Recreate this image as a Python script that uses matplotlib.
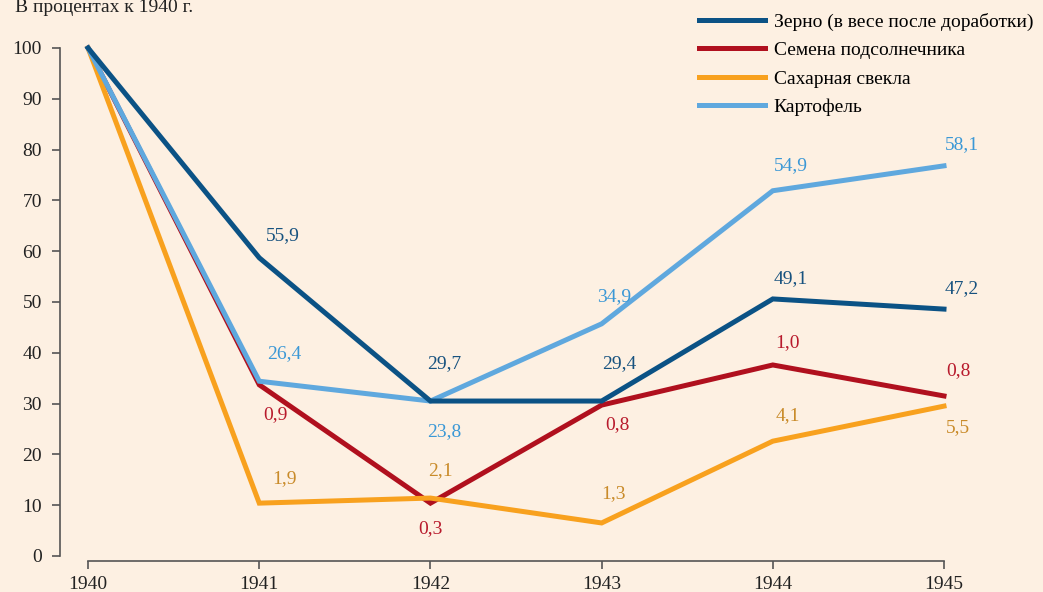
import matplotlib
matplotlib.use('Agg')
import matplotlib.pyplot as plt

years = [1940, 1941, 1942, 1943, 1944, 1945]
names = ['Зерно (в весе после доработки)', 'Семена подсолнечника',
         'Сахарная свекла', 'Картофель']
grain = [100, 58.7, 30.5, 30.5, 50.6, 48.6]
sunflower = [100, 33.7, 10.4, 29.7, 37.6, 31.5]
beet = [100, 10.4, 11.4, 6.5, 22.6, 29.5]
potato = [100, 34.4, 30.5, 45.7, 71.9, 76.8]
# подписи у точек (млн т)
grain_lbl = ['', '55,9', '29,7', '29,4', '49,1', '47,2']
sunflower_lbl = ['', '0,9', '0,3', '0,8', '1,0', '0,8']
beet_lbl = ['', '1,9', '2,1', '1,3', '4,1', '5,5']
potato_lbl = ['', '26,4', '23,8', '34,9', '54,9', '58,1']

line_col = ['#0b5285', '#b0101e', '#f8a11e', '#5fa8de']
text_col = ['#17527f', '#b81a2c', '#c98b2a', '#3b98d6']
# смещения подписей в пикселях
offs = [
    [None, (24, 22), (14, 37), (18, 37), (18, 20), (18, 21)],
    [None, (16, -30), (0, -25), (16, -19), (15, 22), (14, 25)],
    [None, (25, 25), (10, 27), (12, 29), (15, 26), (14, -21)],
    [None, (25, 28), (14, -31), (12, 27), (18, 25), (18, 21)],
]

plt.rcParams['font.family'] = ['Liberation Serif', 'DejaVu Serif']
fs = 14
bg = '#fdf0e2'
fig = plt.figure(figsize=(10.43, 5.92), dpi=100, facecolor=bg)
ax = fig.add_axes([60 / 1043, 34 / 592, 884 / 1043, 510 / 592])
ax.set_facecolor(bg)

series = [grain, sunflower, beet, potato]
labels = [grain_lbl, sunflower_lbl, beet_lbl, potato_lbl]
for i in range(4):
    ax.plot(years, series[i], color=line_col[i], lw=3.6, label=names[i],
            clip_on=False, zorder=3 if i == 0 else 2, solid_joinstyle='miter')
for i in range(4):
    for j in range(len(years)):
        if labels[i][j]:
            ax.annotate(labels[i][j], (years[j], series[i][j]),
                        xytext=offs[i][j], textcoords='offset pixels',
                        ha='center', va='center', fontsize=fs, color=text_col[i])

ax.set_xlim(1939.836, 1945)
ax.set_ylim(-0.4, 100)
ax.set_xticks(years)
ax.set_yticks(range(0, 101, 10))
for s in ['top', 'right']:
    ax.spines[s].set_visible(False)
ax.spines['left'].set_bounds(0, 100)
ax.spines['bottom'].set_bounds(1940, 1945)
ax.spines['bottom'].set_position(('outward', 2))
for s in ['left', 'bottom']:
    ax.spines[s].set_color('#555555')
    ax.spines[s].set_linewidth(1.2)
ax.tick_params(colors='#555555', length=6, width=1.2, labelsize=fs,
               labelcolor='#222222')
ax.tick_params(axis='x', pad=5)
ax.tick_params(axis='y', pad=7)

fig.text(15 / 1043, 1 - 8 / 592, 'В процентах к 1940 г.', fontsize=fs,
         color='#222222', ha='left', va='center')

fig.legend(loc='upper left', bbox_to_anchor=(686 / 1043, 1.0), frameon=False,
           fontsize=fs, handlelength=3.4, handletextpad=0.45, labelspacing=0.56,
           borderaxespad=0.25)

fig.savefig('out.png', dpi=100, facecolor=bg)
